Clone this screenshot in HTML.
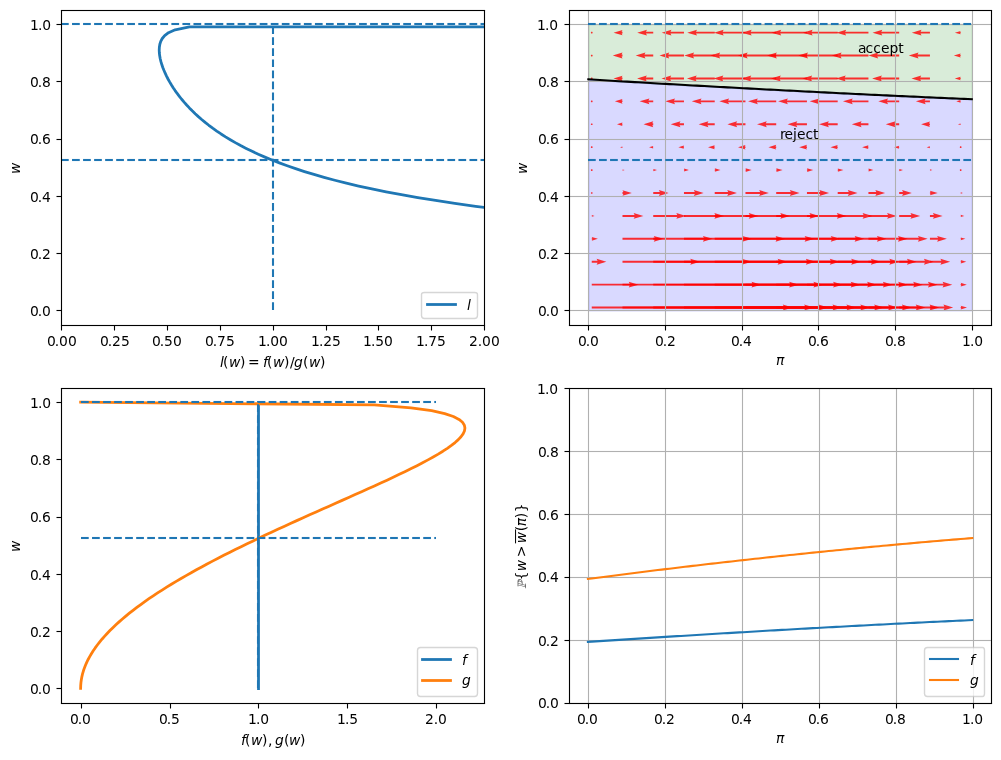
<!DOCTYPE html>
<html lang="en"><head><meta charset="utf-8"><title>Job search with learning</title>
<style>html,body{margin:0;padding:0;background:#fff}svg{display:block}text{white-space:pre}</style>
</head><body>
<svg width="1001" height="760" viewBox="0 0 1001 760" font-family='"DejaVu Sans","Liberation Sans",sans-serif' stroke-linejoin="round" stroke-linecap="butt">
<defs><clipPath id="pc3ad284a32"><rect x="61" y="10" width="423" height="315"/></clipPath><clipPath id="p1f0355fe69"><rect x="569" y="10" width="422" height="315"/></clipPath><clipPath id="p1760d0ab5e"><rect x="61" y="388" width="423" height="315"/></clipPath><clipPath id="p3ed62a09fd"><rect x="569" y="388" width="422" height="315"/></clipPath></defs>
<path d="M0 760L1001 760L1001 0L0 0Z" fill="#ffffff"/>
<!-- axes_1 -->
<path d="M61 325L484 325L484 10L61 10Z" fill="#ffffff"/>
<path d="M61.5 325.5L61.5 330.5" stroke="#000000" stroke-width="1.11"/>
<text x="47 54.75 59.12 67.88" y="346" font-size="13.89">0.00</text>
<path d="M114.5 325.5L114.5 330.5" stroke="#000000" stroke-width="1.11"/>
<text x="100 107.75 112.12 120.88" y="346" font-size="13.89">0.25</text>
<path d="M167.5 325.5L167.5 330.5" stroke="#000000" stroke-width="1.11"/>
<text x="152 159.75 164.12 172.88" y="346" font-size="13.89">0.50</text>
<path d="M220.5 325.5L220.5 330.5" stroke="#000000" stroke-width="1.11"/>
<text x="205 212.75 217.12 225.88" y="346" font-size="13.89">0.75</text>
<path d="M273.5 325.5L273.5 330.5" stroke="#000000" stroke-width="1.11"/>
<text x="258 265.88 270.25 279" y="346" font-size="13.89">1.00</text>
<path d="M326.5 325.5L326.5 330.5" stroke="#000000" stroke-width="1.11"/>
<text x="311 318.88 323.25 332" y="346" font-size="13.89">1.25</text>
<path d="M378.5 325.5L378.5 330.5" stroke="#000000" stroke-width="1.11"/>
<text x="363 370.88 375.25 384" y="346" font-size="13.89">1.50</text>
<path d="M431.5 325.5L431.5 330.5" stroke="#000000" stroke-width="1.11"/>
<text x="416 423.88 428.25 437" y="346" font-size="13.89">1.75</text>
<path d="M484.5 325.5L484.5 330.5" stroke="#000000" stroke-width="1.11"/>
<text x="469 477.75 482.12 490.88" y="346" font-size="13.89">2.00</text>
<g transform="translate(219.91 366.5)">
<text font-size="13.89"><tspan x="0" y="0" font-style="italic">l</tspan><tspan x="3" y="0">(</tspan><tspan x="9" y="0" font-style="italic">w</tspan><tspan x="20" y="0">)</tspan><tspan x="28" y="0">=</tspan><tspan x="43" y="0" font-style="italic">f</tspan><tspan x="47" y="0">(</tspan><tspan x="53" y="0" font-style="italic">w</tspan><tspan x="64" y="0">)</tspan><tspan x="70" y="0">/</tspan><tspan x="74" y="0" font-style="italic">g</tspan><tspan x="83" y="0">(</tspan><tspan x="89" y="0" font-style="italic">w</tspan><tspan x="100" y="0">)</tspan></text>
</g>
<rect x="56.5" y="309.944" width="5" height="1.111" fill="#000000"/>
<text x="30 37.75 42.12" y="316" font-size="13.89">0.0</text>
<rect x="56.5" y="252.944" width="5" height="1.111" fill="#000000"/>
<text x="30 37.75 42.12" y="259" font-size="13.89">0.2</text>
<rect x="56.5" y="195.944" width="5" height="1.111" fill="#000000"/>
<text x="30 37.75 42.12" y="202" font-size="13.89">0.4</text>
<rect x="56.5" y="138.944" width="5" height="1.111" fill="#000000"/>
<text x="30 37.75 42.12" y="144" font-size="13.89">0.6</text>
<rect x="56.5" y="80.944" width="5" height="1.111" fill="#000000"/>
<text x="30 37.75 42.12" y="87" font-size="13.89">0.8</text>
<rect x="56.5" y="23.944" width="5" height="1.111" fill="#000000"/>
<text x="30 37.88 42.25" y="30" font-size="13.89">1.0</text>
<g transform="translate(19.52 173.92) rotate(-90)">
<text font-size="13.89"><tspan x="0" y="0" font-style="italic">w</tspan></text>
</g>
<path d="M1002.67 242.52L961.47 240.98L893.14 238.09L832.49 235.2L778.4 232.3L729.97 229.41L686.43 226.52L647.14 223.63L611.56 220.73L579.25 217.84L549.81 214.95L522.91 212.06L498.27 209.16L475.64 206.27L454.81 203.38L435.59 200.49L417.82 197.59L401.37 194.7L386.09 191.81L371.9 188.92L358.67 186.02L346.34 183.13L334.82 180.24L324.04 177.35L313.94 174.45L304.47 171.56L295.58 168.67L287.22 165.78L279.35 162.88L271.93 159.99L264.93 157.1L258.33 154.21L252.09 151.31L246.19 148.42L240.6 145.53L235.31 142.64L230.3 139.74L225.55 136.85L221.04 133.96L216.76 131.07L212.69 128.17L208.83 125.28L205.16 122.39L201.67 119.49L198.36 116.6L195.2 113.71L192.21 110.82L189.36 107.92L186.66 105.03L184.1 102.14L181.66 99.25L179.36 96.35L177.17 93.46L175.11 90.57L173.17 87.68L171.34 84.78L169.62 81.89L168.02 79L166.54 76.11L165.17 73.21L163.92 70.32L162.79 67.43L161.8 64.54L160.94 61.64L160.23 58.75L159.7 55.86L159.35 52.97L159.22 50.07L159.37 47.18L159.84 44.29L160.75 41.4L162.26 38.5L164.66 35.61L168.5 32.72L175.17 29.83L189.43 26.93L1002.67 26.74" fill="none" stroke="#1f77b4" stroke-width="2.78" stroke-linecap="square" clip-path="url(#pc3ad284a32)"/>
<path d="M273 310L273 24" fill="none" stroke="#1f77b4" stroke-width="2.08" stroke-dasharray="7.71,3.33" clip-path="url(#pc3ad284a32)"/>
<path d="M61 160L484 160" fill="none" stroke="#1f77b4" stroke-width="2.08" stroke-dasharray="7.71,3.33" clip-path="url(#pc3ad284a32)"/>
<path d="M61 160L484 160" fill="none" stroke="#1f77b4" stroke-opacity="0.042" stroke-width="4" stroke-dasharray="7.71,3.33" clip-path="url(#pc3ad284a32)"/>
<path d="M61 24L484 24" fill="none" stroke="#1f77b4" stroke-width="2.08" stroke-dasharray="7.71,3.33" clip-path="url(#pc3ad284a32)"/>
<path d="M61 24L484 24" fill="none" stroke="#1f77b4" stroke-opacity="0.042" stroke-width="4" stroke-dasharray="7.71,3.33" clip-path="url(#pc3ad284a32)"/>
<path d="M61.5 325.5L61.5 10.5" fill="none" stroke="#000000" stroke-width="1.11" stroke-linecap="square" stroke-linejoin="miter"/>
<path d="M484.5 325.5L484.5 10.5" fill="none" stroke="#000000" stroke-width="1.11" stroke-linecap="square" stroke-linejoin="miter"/>
<rect x="60.944" y="324.944" width="424.111" height="1.111" fill="#000000"/>
<rect x="60.944" y="9.944" width="424.111" height="1.111" fill="#000000"/>
<path d="M424.5 318.5L474.5 318.5Q477.5 318.5 477.5 315.5L477.5 294.5Q477.5 292.5 474.5 292.5L424.5 292.5Q421.5 292.5 421.5 294.5L421.5 315.5Q421.5 318.5 424.5 318.5Z" fill="#ffffff" opacity="0.8" stroke="#cccccc" stroke-width="1.39" stroke-linejoin="miter"/>
<rect x="426.111" y="303.111" width="30.778" height="2.778" fill="#1f77b4"/>
<g transform="translate(467.12 309.83)">
<text font-size="13.89"><tspan x="0" y="0" font-style="italic">l</tspan></text>
</g>
<!-- axes_2 -->
<path d="M569 325L991 325L991 10L569 10Z" fill="#ffffff"/>
<path d="M588.79 79.83L588.79 310.9L592.66 310.9L596.54 310.9L600.41 310.9L604.29 310.9L608.16 310.9L612.03 310.9L615.91 310.9L619.78 310.9L623.66 310.9L627.53 310.9L631.4 310.9L635.28 310.9L639.15 310.9L643.03 310.9L646.9 310.9L650.77 310.9L654.65 310.9L658.52 310.9L662.4 310.9L666.27 310.9L670.14 310.9L674.02 310.9L677.89 310.9L681.77 310.9L685.64 310.9L689.51 310.9L693.39 310.9L697.26 310.9L701.14 310.9L705.01 310.9L708.88 310.9L712.76 310.9L716.63 310.9L720.51 310.9L724.38 310.9L728.25 310.9L732.13 310.9L736 310.9L739.88 310.9L743.75 310.9L747.62 310.9L751.5 310.9L755.37 310.9L759.25 310.9L763.12 310.9L767 310.9L770.87 310.9L774.74 310.9L778.62 310.9L782.49 310.9L786.37 310.9L790.24 310.9L794.11 310.9L797.99 310.9L801.86 310.9L805.74 310.9L809.61 310.9L813.48 310.9L817.36 310.9L821.23 310.9L825.11 310.9L828.98 310.9L832.85 310.9L836.73 310.9L840.6 310.9L844.48 310.9L848.35 310.9L852.22 310.9L856.1 310.9L859.97 310.9L863.85 310.9L867.72 310.9L871.59 310.9L875.47 310.9L879.34 310.9L883.22 310.9L887.09 310.9L890.96 310.9L894.84 310.9L898.71 310.9L902.59 310.9L906.46 310.9L910.33 310.9L914.21 310.9L918.08 310.9L921.96 310.9L925.83 310.9L929.7 310.9L933.58 310.9L937.45 310.9L941.33 310.9L945.2 310.9L949.07 310.9L952.95 310.9L956.82 310.9L960.7 310.9L964.57 310.9L968.44 310.9L972.32 310.9L972.32 99.67L972.32 99.67L968.44 99.51L964.57 99.35L960.7 99.19L956.82 99.02L952.95 98.86L949.07 98.69L945.2 98.53L941.33 98.36L937.45 98.19L933.58 98.02L929.7 97.85L925.83 97.68L921.96 97.5L918.08 97.33L914.21 97.16L910.33 96.98L906.46 96.8L902.59 96.63L898.71 96.45L894.84 96.27L890.96 96.09L887.09 95.91L883.22 95.73L879.34 95.54L875.47 95.36L871.59 95.18L867.72 94.99L863.85 94.81L859.97 94.62L856.1 94.43L852.22 94.24L848.35 94.06L844.48 93.87L840.6 93.68L836.73 93.48L832.85 93.29L828.98 93.1L825.11 92.91L821.23 92.71L817.36 92.52L813.48 92.32L809.61 92.13L805.74 91.93L801.86 91.73L797.99 91.53L794.11 91.33L790.24 91.13L786.37 90.93L782.49 90.73L778.62 90.53L774.74 90.33L770.87 90.12L767 89.92L763.12 89.72L759.25 89.51L755.37 89.3L751.5 89.1L747.62 88.89L743.75 88.68L739.88 88.47L736 88.27L732.13 88.06L728.25 87.84L724.38 87.63L720.51 87.42L716.63 87.21L712.76 87L708.88 86.78L705.01 86.57L701.14 86.35L697.26 86.14L693.39 85.92L689.51 85.7L685.64 85.49L681.77 85.27L677.89 85.05L674.02 84.83L670.14 84.61L666.27 84.39L662.4 84.17L658.52 83.95L654.65 83.72L650.77 83.5L646.9 83.28L643.03 83.05L639.15 82.83L635.28 82.6L631.4 82.37L627.53 82.15L623.66 81.92L619.78 81.69L615.91 81.46L612.03 81.23L608.16 81L604.29 80.76L600.41 80.53L596.54 80.3L592.66 80.06L588.79 79.83Z" fill="#0000ff" fill-opacity="0.15" stroke="#0000ff" stroke-opacity="0.15" stroke-width="1.39" clip-path="url(#p1f0355fe69)"/>
<path d="M588.79 24.54L588.79 79.83L592.66 80.06L596.54 80.3L600.41 80.53L604.29 80.76L608.16 81L612.03 81.23L615.91 81.46L619.78 81.69L623.66 81.92L627.53 82.15L631.4 82.37L635.28 82.6L639.15 82.83L643.03 83.05L646.9 83.28L650.77 83.5L654.65 83.72L658.52 83.95L662.4 84.17L666.27 84.39L670.14 84.61L674.02 84.83L677.89 85.05L681.77 85.27L685.64 85.49L689.51 85.7L693.39 85.92L697.26 86.14L701.14 86.35L705.01 86.57L708.88 86.78L712.76 87L716.63 87.21L720.51 87.42L724.38 87.63L728.25 87.84L732.13 88.06L736 88.27L739.88 88.47L743.75 88.68L747.62 88.89L751.5 89.1L755.37 89.3L759.25 89.51L763.12 89.72L767 89.92L770.87 90.12L774.74 90.33L778.62 90.53L782.49 90.73L786.37 90.93L790.24 91.13L794.11 91.33L797.99 91.53L801.86 91.73L805.74 91.93L809.61 92.13L813.48 92.32L817.36 92.52L821.23 92.71L825.11 92.91L828.98 93.1L832.85 93.29L836.73 93.48L840.6 93.68L844.48 93.87L848.35 94.06L852.22 94.24L856.1 94.43L859.97 94.62L863.85 94.81L867.72 94.99L871.59 95.18L875.47 95.36L879.34 95.54L883.22 95.73L887.09 95.91L890.96 96.09L894.84 96.27L898.71 96.45L902.59 96.63L906.46 96.8L910.33 96.98L914.21 97.16L918.08 97.33L921.96 97.5L925.83 97.68L929.7 97.85L933.58 98.02L937.45 98.19L941.33 98.36L945.2 98.53L949.07 98.69L952.95 98.86L956.82 99.02L960.7 99.19L964.57 99.35L968.44 99.51L972.32 99.67L972.32 24.54L972.32 24.54L968.44 24.54L964.57 24.54L960.7 24.54L956.82 24.54L952.95 24.54L949.07 24.54L945.2 24.54L941.33 24.54L937.45 24.54L933.58 24.54L929.7 24.54L925.83 24.54L921.96 24.54L918.08 24.54L914.21 24.54L910.33 24.54L906.46 24.54L902.59 24.54L898.71 24.54L894.84 24.54L890.96 24.54L887.09 24.54L883.22 24.54L879.34 24.54L875.47 24.54L871.59 24.54L867.72 24.54L863.85 24.54L859.97 24.54L856.1 24.54L852.22 24.54L848.35 24.54L844.48 24.54L840.6 24.54L836.73 24.54L832.85 24.54L828.98 24.54L825.11 24.54L821.23 24.54L817.36 24.54L813.48 24.54L809.61 24.54L805.74 24.54L801.86 24.54L797.99 24.54L794.11 24.54L790.24 24.54L786.37 24.54L782.49 24.54L778.62 24.54L774.74 24.54L770.87 24.54L767 24.54L763.12 24.54L759.25 24.54L755.37 24.54L751.5 24.54L747.62 24.54L743.75 24.54L739.88 24.54L736 24.54L732.13 24.54L728.25 24.54L724.38 24.54L720.51 24.54L716.63 24.54L712.76 24.54L708.88 24.54L705.01 24.54L701.14 24.54L697.26 24.54L693.39 24.54L689.51 24.54L685.64 24.54L681.77 24.54L677.89 24.54L674.02 24.54L670.14 24.54L666.27 24.54L662.4 24.54L658.52 24.54L654.65 24.54L650.77 24.54L646.9 24.54L643.03 24.54L639.15 24.54L635.28 24.54L631.4 24.54L627.53 24.54L623.66 24.54L619.78 24.54L615.91 24.54L612.03 24.54L608.16 24.54L604.29 24.54L600.41 24.54L596.54 24.54L592.66 24.54L588.79 24.54Z" fill="#008000" fill-opacity="0.15" stroke="#008000" stroke-opacity="0.15" stroke-width="1.39" clip-path="url(#p1f0355fe69)"/>
<path d="M591.75 306.56L783.75 306.56L782.78 304.61L792.53 307.54L782.78 310.47L783.75 308.52L591.75 308.52L591.75 306.56" fill="#ff0000" fill-opacity="0.8" clip-path="url(#p1f0355fe69)"/>
<path d="M622.49 306.56L805.16 306.56L804.18 304.61L813.94 307.54L804.18 310.47L805.16 308.52L622.49 308.52L622.49 306.56" fill="#ff0000" fill-opacity="0.8" clip-path="url(#p1f0355fe69)"/>
<path d="M653.24 306.56L819.45 306.56L818.48 304.61L828.23 307.54L818.48 310.47L819.45 308.52L653.24 308.52L653.24 306.56" fill="#ff0000" fill-opacity="0.8" clip-path="url(#p1f0355fe69)"/>
<path d="M683.98 306.56L833.46 306.56L832.48 304.61L842.24 307.54L832.48 310.47L833.46 308.52L683.98 308.52L683.98 306.56" fill="#ff0000" fill-opacity="0.8" clip-path="url(#p1f0355fe69)"/>
<path d="M714.72 306.56L847.38 306.56L846.4 304.61L856.16 307.54L846.4 310.47L847.38 308.52L714.72 308.52L714.72 306.56" fill="#ff0000" fill-opacity="0.8" clip-path="url(#p1f0355fe69)"/>
<path d="M745.47 306.56L861.26 306.56L860.29 304.61L870.04 307.54L860.29 310.47L861.26 308.52L745.47 308.52L745.47 306.56" fill="#ff0000" fill-opacity="0.8" clip-path="url(#p1f0355fe69)"/>
<path d="M776.21 306.56L875.13 306.56L874.16 304.61L883.91 307.54L874.16 310.47L875.13 308.52L776.21 308.52L776.21 306.56" fill="#ff0000" fill-opacity="0.8" clip-path="url(#p1f0355fe69)"/>
<path d="M806.95 306.56L888.99 306.56L888.02 304.61L897.77 307.54L888.02 310.47L888.99 308.52L806.95 308.52L806.95 306.56" fill="#ff0000" fill-opacity="0.8" clip-path="url(#p1f0355fe69)"/>
<path d="M837.7 306.56L902.85 306.56L901.87 304.61L911.63 307.54L901.87 310.47L902.85 308.52L837.7 308.52L837.7 306.56" fill="#ff0000" fill-opacity="0.8" clip-path="url(#p1f0355fe69)"/>
<path d="M868.44 306.56L916.7 306.56L915.72 304.61L925.48 307.54L915.72 310.47L916.7 308.52L868.44 308.52L868.44 306.56" fill="#ff0000" fill-opacity="0.8" clip-path="url(#p1f0355fe69)"/>
<path d="M899.19 306.56L930.54 306.56L929.57 304.61L939.32 307.54L929.57 310.47L930.54 308.52L899.19 308.52L899.19 306.56" fill="#ff0000" fill-opacity="0.8" clip-path="url(#p1f0355fe69)"/>
<path d="M929.93 306.56L944.39 306.56L943.41 304.61L953.17 307.54L943.41 310.47L944.39 308.52L929.93 308.52L929.93 306.56" fill="#ff0000" fill-opacity="0.8" clip-path="url(#p1f0355fe69)"/>
<path d="M960.67 306.91L961.31 306.91L960.67 305.64L967.01 307.54L960.67 309.44L961.31 308.17L960.67 308.17L960.67 306.91" fill="#ff0000" fill-opacity="0.8" clip-path="url(#p1f0355fe69)"/>
<path d="M591.75 283.66L629.74 283.66L628.76 281.7L638.52 284.63L628.76 287.56L629.74 285.61L591.75 285.61L591.75 283.66" fill="#ff0000" fill-opacity="0.8" clip-path="url(#p1f0355fe69)"/>
<path d="M622.49 283.66L752.48 283.66L751.51 281.7L761.26 284.63L751.51 287.56L752.48 285.61L622.49 285.61L622.49 283.66" fill="#ff0000" fill-opacity="0.8" clip-path="url(#p1f0355fe69)"/>
<path d="M653.24 283.66L790.12 283.66L789.14 281.7L798.9 284.63L789.14 287.56L790.12 285.61L653.24 285.61L653.24 283.66" fill="#ff0000" fill-opacity="0.8" clip-path="url(#p1f0355fe69)"/>
<path d="M683.98 283.66L814.38 283.66L813.41 281.7L823.16 284.63L813.41 287.56L814.38 285.61L683.98 285.61L683.98 283.66" fill="#ff0000" fill-opacity="0.8" clip-path="url(#p1f0355fe69)"/>
<path d="M714.72 283.66L834.07 283.66L833.09 281.7L842.85 284.63L833.09 287.56L834.07 285.61L714.72 285.61L714.72 283.66" fill="#ff0000" fill-opacity="0.8" clip-path="url(#p1f0355fe69)"/>
<path d="M745.47 283.66L851.65 283.66L850.68 281.7L860.43 284.63L850.68 287.56L851.65 285.61L745.47 285.61L745.47 283.66" fill="#ff0000" fill-opacity="0.8" clip-path="url(#p1f0355fe69)"/>
<path d="M776.21 283.66L868.09 283.66L867.11 281.7L876.87 284.63L867.11 287.56L868.09 285.61L776.21 285.61L776.21 283.66" fill="#ff0000" fill-opacity="0.8" clip-path="url(#p1f0355fe69)"/>
<path d="M806.95 283.66L883.84 283.66L882.86 281.7L892.62 284.63L882.86 287.56L883.84 285.61L806.95 285.61L806.95 283.66" fill="#ff0000" fill-opacity="0.8" clip-path="url(#p1f0355fe69)"/>
<path d="M837.7 283.66L899.14 283.66L898.17 281.7L907.92 284.63L898.17 287.56L899.14 285.61L837.7 285.61L837.7 283.66" fill="#ff0000" fill-opacity="0.8" clip-path="url(#p1f0355fe69)"/>
<path d="M868.44 283.66L914.14 283.66L913.16 281.7L922.92 284.63L913.16 287.56L914.14 285.61L868.44 285.61L868.44 283.66" fill="#ff0000" fill-opacity="0.8" clip-path="url(#p1f0355fe69)"/>
<path d="M899.19 283.66L928.91 283.66L927.94 281.7L937.69 284.63L927.94 287.56L928.91 285.61L899.19 285.61L899.19 283.66" fill="#ff0000" fill-opacity="0.8" clip-path="url(#p1f0355fe69)"/>
<path d="M929.93 283.66L943.53 283.66L942.55 281.7L952.31 284.63L942.55 287.56L943.53 285.61L929.93 285.61L929.93 283.66" fill="#ff0000" fill-opacity="0.8" clip-path="url(#p1f0355fe69)"/>
<path d="M960.67 284.02L961.29 284.02L960.67 282.79L966.8 284.63L960.67 286.47L961.29 285.24L960.67 285.24L960.67 284.02" fill="#ff0000" fill-opacity="0.8" clip-path="url(#p1f0355fe69)"/>
<path d="M591.75 260.75L597.57 260.75L596.6 258.8L606.35 261.72L596.6 264.65L597.57 262.7L591.75 262.7L591.75 260.75" fill="#ff0000" fill-opacity="0.8" clip-path="url(#p1f0355fe69)"/>
<path d="M622.49 260.75L691.24 260.75L690.26 258.8L700.02 261.72L690.26 264.65L691.24 262.7L622.49 262.7L622.49 260.75" fill="#ff0000" fill-opacity="0.8" clip-path="url(#p1f0355fe69)"/>
<path d="M653.24 260.75L742.79 260.75L741.82 258.8L751.57 261.72L741.82 264.65L742.79 262.7L653.24 262.7L653.24 260.75" fill="#ff0000" fill-opacity="0.8" clip-path="url(#p1f0355fe69)"/>
<path d="M683.98 260.75L778.6 260.75L777.62 258.8L787.38 261.72L777.62 264.65L778.6 262.7L683.98 262.7L683.98 260.75" fill="#ff0000" fill-opacity="0.8" clip-path="url(#p1f0355fe69)"/>
<path d="M714.72 260.75L806.82 260.75L805.84 258.8L815.6 261.72L805.84 264.65L806.82 262.7L714.72 262.7L714.72 260.75" fill="#ff0000" fill-opacity="0.8" clip-path="url(#p1f0355fe69)"/>
<path d="M745.47 260.75L830.8 260.75L829.82 258.8L839.58 261.72L829.82 264.65L830.8 262.7L745.47 262.7L745.47 260.75" fill="#ff0000" fill-opacity="0.8" clip-path="url(#p1f0355fe69)"/>
<path d="M776.21 260.75L852.18 260.75L851.2 258.8L860.96 261.72L851.2 264.65L852.18 262.7L776.21 262.7L776.21 260.75" fill="#ff0000" fill-opacity="0.8" clip-path="url(#p1f0355fe69)"/>
<path d="M806.95 260.75L871.84 260.75L870.86 258.8L880.62 261.72L870.86 264.65L871.84 262.7L806.95 262.7L806.95 260.75" fill="#ff0000" fill-opacity="0.8" clip-path="url(#p1f0355fe69)"/>
<path d="M837.7 260.75L890.31 260.75L889.33 258.8L899.09 261.72L889.33 264.65L890.31 262.7L837.7 262.7L837.7 260.75" fill="#ff0000" fill-opacity="0.8" clip-path="url(#p1f0355fe69)"/>
<path d="M868.44 260.75L907.92 260.75L906.94 258.8L916.7 261.72L906.94 264.65L907.92 262.7L868.44 262.7L868.44 260.75" fill="#ff0000" fill-opacity="0.8" clip-path="url(#p1f0355fe69)"/>
<path d="M899.19 260.75L924.89 260.75L923.92 258.8L933.67 261.72L923.92 264.65L924.89 262.7L899.19 262.7L899.19 260.75" fill="#ff0000" fill-opacity="0.8" clip-path="url(#p1f0355fe69)"/>
<path d="M929.93 260.75L941.37 260.75L940.4 258.8L950.15 261.72L940.4 264.65L941.37 262.7L929.93 262.7L929.93 260.75" fill="#ff0000" fill-opacity="0.8" clip-path="url(#p1f0355fe69)"/>
<path d="M960.67 261.16L961.23 261.16L960.67 260.05L966.25 261.72L960.67 263.39L961.23 262.28L960.67 262.28L960.67 261.16" fill="#ff0000" fill-opacity="0.8" clip-path="url(#p1f0355fe69)"/>
<path d="M591.75 238.2L592.36 238.2L591.75 236.98L597.87 238.81L591.75 240.65L592.36 239.43L591.75 239.43L591.75 238.2" fill="#ff0000" fill-opacity="0.8" clip-path="url(#p1f0355fe69)"/>
<path d="M622.49 237.84L654.73 237.84L653.76 235.89L663.51 238.81L653.76 241.74L654.73 239.79L622.49 239.79L622.49 237.84" fill="#ff0000" fill-opacity="0.8" clip-path="url(#p1f0355fe69)"/>
<path d="M653.24 237.84L703.87 237.84L702.89 235.89L712.65 238.81L702.89 241.74L703.87 239.79L653.24 239.79L653.24 237.84" fill="#ff0000" fill-opacity="0.8" clip-path="url(#p1f0355fe69)"/>
<path d="M683.98 237.84L743.3 237.84L742.32 235.89L752.08 238.81L742.32 241.74L743.3 239.79L683.98 239.79L683.98 237.84" fill="#ff0000" fill-opacity="0.8" clip-path="url(#p1f0355fe69)"/>
<path d="M714.72 237.84L776.54 237.84L775.56 235.89L785.32 238.81L775.56 241.74L776.54 239.79L714.72 239.79L714.72 237.84" fill="#ff0000" fill-opacity="0.8" clip-path="url(#p1f0355fe69)"/>
<path d="M745.47 237.84L805.6 237.84L804.62 235.89L814.38 238.81L804.62 241.74L805.6 239.79L745.47 239.79L745.47 237.84" fill="#ff0000" fill-opacity="0.8" clip-path="url(#p1f0355fe69)"/>
<path d="M776.21 237.84L831.69 237.84L830.71 235.89L840.47 238.81L830.71 241.74L831.69 239.79L776.21 239.79L776.21 237.84" fill="#ff0000" fill-opacity="0.8" clip-path="url(#p1f0355fe69)"/>
<path d="M806.95 237.84L855.61 237.84L854.63 235.89L864.39 238.81L854.63 241.74L855.61 239.79L806.95 239.79L806.95 237.84" fill="#ff0000" fill-opacity="0.8" clip-path="url(#p1f0355fe69)"/>
<path d="M837.7 237.84L877.89 237.84L876.91 235.89L886.67 238.81L876.91 241.74L877.89 239.79L837.7 239.79L837.7 237.84" fill="#ff0000" fill-opacity="0.8" clip-path="url(#p1f0355fe69)"/>
<path d="M868.44 237.84L898.89 237.84L897.92 235.89L907.67 238.81L897.92 241.74L898.89 239.79L868.44 239.79L868.44 237.84" fill="#ff0000" fill-opacity="0.8" clip-path="url(#p1f0355fe69)"/>
<path d="M899.19 237.84L918.89 237.84L917.92 235.89L927.67 238.81L917.92 241.74L918.89 239.79L899.19 239.79L899.19 237.84" fill="#ff0000" fill-opacity="0.8" clip-path="url(#p1f0355fe69)"/>
<path d="M929.93 237.84L938.08 237.84L937.11 235.89L946.86 238.81L937.11 241.74L938.08 239.79L929.93 239.79L929.93 237.84" fill="#ff0000" fill-opacity="0.8" clip-path="url(#p1f0355fe69)"/>
<path d="M960.67 238.34L961.15 238.34L960.67 237.4L965.4 238.81L960.67 240.23L961.15 239.29L960.67 239.29L960.67 238.34" fill="#ff0000" fill-opacity="0.8" clip-path="url(#p1f0355fe69)"/>
<path d="M591.75 215.62L592.03 215.62L591.75 215.06L594.55 215.9L591.75 216.74L592.03 216.18L591.75 216.18L591.75 215.62" fill="#ff0000" fill-opacity="0.8" clip-path="url(#p1f0355fe69)"/>
<path d="M622.49 214.93L634.62 214.93L633.65 212.98L643.4 215.9L633.65 218.83L634.62 216.88L622.49 216.88L622.49 214.93" fill="#ff0000" fill-opacity="0.8" clip-path="url(#p1f0355fe69)"/>
<path d="M653.24 214.93L677.31 214.93L676.33 212.98L686.09 215.9L676.33 218.83L677.31 216.88L653.24 216.88L653.24 214.93" fill="#ff0000" fill-opacity="0.8" clip-path="url(#p1f0355fe69)"/>
<path d="M683.98 214.93L715.32 214.93L714.34 212.98L724.1 215.9L714.34 218.83L715.32 216.88L683.98 216.88L683.98 214.93" fill="#ff0000" fill-opacity="0.8" clip-path="url(#p1f0355fe69)"/>
<path d="M714.72 214.93L749.71 214.93L748.73 212.98L758.49 215.9L748.73 218.83L749.71 216.88L714.72 216.88L714.72 214.93" fill="#ff0000" fill-opacity="0.8" clip-path="url(#p1f0355fe69)"/>
<path d="M745.47 214.93L781.23 214.93L780.25 212.98L790.01 215.9L780.25 218.83L781.23 216.88L745.47 216.88L745.47 214.93" fill="#ff0000" fill-opacity="0.8" clip-path="url(#p1f0355fe69)"/>
<path d="M776.21 214.93L810.45 214.93L809.47 212.98L819.23 215.9L809.47 218.83L810.45 216.88L776.21 216.88L776.21 214.93" fill="#ff0000" fill-opacity="0.8" clip-path="url(#p1f0355fe69)"/>
<path d="M806.95 214.93L837.79 214.93L836.81 212.98L846.56 215.9L836.81 218.83L837.79 216.88L806.95 216.88L806.95 214.93" fill="#ff0000" fill-opacity="0.8" clip-path="url(#p1f0355fe69)"/>
<path d="M837.7 214.93L863.57 214.93L862.59 212.98L872.35 215.9L862.59 218.83L863.57 216.88L837.7 216.88L837.7 214.93" fill="#ff0000" fill-opacity="0.8" clip-path="url(#p1f0355fe69)"/>
<path d="M868.44 214.93L888.04 214.93L887.07 212.98L896.82 215.9L887.07 218.83L888.04 216.88L868.44 216.88L868.44 214.93" fill="#ff0000" fill-opacity="0.8" clip-path="url(#p1f0355fe69)"/>
<path d="M899.19 214.93L911.42 214.93L910.45 212.98L920.2 215.9L910.45 218.83L911.42 216.88L899.19 216.88L899.19 214.93" fill="#ff0000" fill-opacity="0.8" clip-path="url(#p1f0355fe69)"/>
<path d="M929.93 214.93L933.86 214.93L932.89 212.98L942.64 215.9L932.89 218.83L933.86 216.88L929.93 216.88L929.93 214.93" fill="#ff0000" fill-opacity="0.8" clip-path="url(#p1f0355fe69)"/>
<path d="M960.67 215.54L961.03 215.54L960.67 214.82L964.28 215.9L960.67 216.98L961.03 216.26L960.67 216.26L960.67 215.54" fill="#ff0000" fill-opacity="0.8" clip-path="url(#p1f0355fe69)"/>
<path d="M592.72 192.99L592.24 192.15L591.26 192.15L590.77 192.99L591.26 193.84L592.24 193.84L592.72 192.99L592.24 192.15" fill="#ff0000" fill-opacity="0.8" clip-path="url(#p1f0355fe69)"/>
<path d="M622.49 192.06L623.42 192.06L622.49 190.2L631.8 192.99L622.49 195.79L623.42 193.93L622.49 193.93L622.49 192.06" fill="#ff0000" fill-opacity="0.8" clip-path="url(#p1f0355fe69)"/>
<path d="M653.24 192.02L659.83 192.02L658.86 190.07L668.61 192.99L658.86 195.92L659.83 193.97L653.24 193.97L653.24 192.02" fill="#ff0000" fill-opacity="0.8" clip-path="url(#p1f0355fe69)"/>
<path d="M683.98 192.02L694.82 192.02L693.85 190.07L703.6 192.99L693.85 195.92L694.82 193.97L683.98 193.97L683.98 192.02" fill="#ff0000" fill-opacity="0.8" clip-path="url(#p1f0355fe69)"/>
<path d="M714.72 192.02L728.2 192.02L727.23 190.07L736.98 192.99L727.23 195.92L728.2 193.97L714.72 193.97L714.72 192.02" fill="#ff0000" fill-opacity="0.8" clip-path="url(#p1f0355fe69)"/>
<path d="M745.47 192.02L760.15 192.02L759.17 190.07L768.92 192.99L759.17 195.92L760.15 193.97L745.47 193.97L745.47 192.02" fill="#ff0000" fill-opacity="0.8" clip-path="url(#p1f0355fe69)"/>
<path d="M776.21 192.02L790.81 192.02L789.83 190.07L799.59 192.99L789.83 195.92L790.81 193.97L776.21 193.97L776.21 192.02" fill="#ff0000" fill-opacity="0.8" clip-path="url(#p1f0355fe69)"/>
<path d="M806.95 192.02L820.32 192.02L819.34 190.07L829.1 192.99L819.34 195.92L820.32 193.97L806.95 193.97L806.95 192.02" fill="#ff0000" fill-opacity="0.8" clip-path="url(#p1f0355fe69)"/>
<path d="M837.7 192.02L848.79 192.02L847.82 190.07L857.57 192.99L847.82 195.92L848.79 193.97L837.7 193.97L837.7 192.02" fill="#ff0000" fill-opacity="0.8" clip-path="url(#p1f0355fe69)"/>
<path d="M868.44 192.02L876.33 192.02L875.35 190.07L885.11 192.99L875.35 195.92L876.33 193.97L868.44 193.97L868.44 192.02" fill="#ff0000" fill-opacity="0.8" clip-path="url(#p1f0355fe69)"/>
<path d="M899.19 192.02L903.02 192.02L902.04 190.07L911.8 192.99L902.04 195.92L903.02 193.97L899.19 193.97L899.19 192.02" fill="#ff0000" fill-opacity="0.8" clip-path="url(#p1f0355fe69)"/>
<path d="M929.93 192.22L930.71 192.22L929.93 190.66L937.71 192.99L929.93 195.33L930.71 193.77L929.93 193.77L929.93 192.22" fill="#ff0000" fill-opacity="0.8" clip-path="url(#p1f0355fe69)"/>
<path d="M960.67 192.77L960.9 192.77L960.67 192.32L962.92 192.99L960.67 193.67L960.9 193.22L960.67 193.22L960.67 192.77" fill="#ff0000" fill-opacity="0.8" clip-path="url(#p1f0355fe69)"/>
<path d="M592.72 170.09L592.24 169.24L591.26 169.24L590.77 170.09L591.26 170.93L592.24 170.93L592.72 170.09L592.24 169.24" fill="#ff0000" fill-opacity="0.8" clip-path="url(#p1f0355fe69)"/>
<path d="M622.49 169.87L622.71 169.87L622.49 169.43L624.69 170.09L622.49 170.74L622.71 170.31L622.49 170.31L622.49 169.87" fill="#ff0000" fill-opacity="0.8" clip-path="url(#p1f0355fe69)"/>
<path d="M653.24 169.71L653.61 169.71L653.24 168.96L656.98 170.09L653.24 171.21L653.61 170.46L653.24 170.46L653.24 169.71" fill="#ff0000" fill-opacity="0.8" clip-path="url(#p1f0355fe69)"/>
<path d="M683.98 169.59L684.47 169.59L683.98 168.61L688.9 170.09L683.98 171.56L684.47 170.58L683.98 170.58L683.98 169.59" fill="#ff0000" fill-opacity="0.8" clip-path="url(#p1f0355fe69)"/>
<path d="M714.72 169.51L715.3 169.51L714.72 168.36L720.47 170.09L714.72 171.81L715.3 170.66L714.72 170.66L714.72 169.51" fill="#ff0000" fill-opacity="0.8" clip-path="url(#p1f0355fe69)"/>
<path d="M745.47 169.46L746.09 169.46L745.47 168.22L751.69 170.09L745.47 171.95L746.09 170.71L745.47 170.71L745.47 169.46" fill="#ff0000" fill-opacity="0.8" clip-path="url(#p1f0355fe69)"/>
<path d="M776.21 169.45L776.85 169.45L776.21 168.18L782.58 170.09L776.21 172L776.85 170.72L776.21 170.72L776.21 169.45" fill="#ff0000" fill-opacity="0.8" clip-path="url(#p1f0355fe69)"/>
<path d="M806.95 169.47L807.57 169.47L806.95 168.23L813.14 170.09L806.95 171.94L807.57 170.7L806.95 170.7L806.95 169.47" fill="#ff0000" fill-opacity="0.8" clip-path="url(#p1f0355fe69)"/>
<path d="M837.7 169.52L838.27 169.52L837.7 168.38L843.39 170.09L837.7 171.79L838.27 170.65L837.7 170.65L837.7 169.52" fill="#ff0000" fill-opacity="0.8" clip-path="url(#p1f0355fe69)"/>
<path d="M868.44 169.6L868.93 169.6L868.44 168.62L873.32 170.09L868.44 171.55L868.93 170.57L868.44 170.57L868.44 169.6" fill="#ff0000" fill-opacity="0.8" clip-path="url(#p1f0355fe69)"/>
<path d="M899.19 169.71L899.56 169.71L899.19 168.95L902.96 170.09L899.19 171.22L899.56 170.46L899.19 170.46L899.19 169.71" fill="#ff0000" fill-opacity="0.8" clip-path="url(#p1f0355fe69)"/>
<path d="M929.93 169.85L930.17 169.85L929.93 169.37L932.31 170.09L929.93 170.8L930.17 170.32L929.93 170.32L929.93 169.85" fill="#ff0000" fill-opacity="0.8" clip-path="url(#p1f0355fe69)"/>
<path d="M961.65 170.09L961.16 169.24L960.19 169.24L959.7 170.09L960.19 170.93L961.16 170.93L961.65 170.09L961.16 169.24" fill="#ff0000" fill-opacity="0.8" clip-path="url(#p1f0355fe69)"/>
<path d="M590.77 147.18L591.26 148.02L592.24 148.02L592.72 147.18L592.24 146.33L591.26 146.33L590.77 147.18L591.26 148.02" fill="#ff0000" fill-opacity="0.8" clip-path="url(#p1f0355fe69)"/>
<path d="M622.49 147.42L622.25 147.42L622.49 147.9L620.08 147.18L622.49 146.45L622.25 146.94L622.49 146.94L622.49 147.42" fill="#ff0000" fill-opacity="0.8" clip-path="url(#p1f0355fe69)"/>
<path d="M653.24 147.6L652.82 147.6L653.24 148.44L649.04 147.18L653.24 145.92L652.82 146.76L653.24 146.76L653.24 147.6" fill="#ff0000" fill-opacity="0.8" clip-path="url(#p1f0355fe69)"/>
<path d="M683.98 147.74L683.42 147.74L683.98 148.87L678.34 147.18L683.98 145.49L683.42 146.61L683.98 146.61L683.98 147.74" fill="#ff0000" fill-opacity="0.8" clip-path="url(#p1f0355fe69)"/>
<path d="M714.72 147.85L714.05 147.85L714.72 149.19L708 147.18L714.72 145.16L714.05 146.5L714.72 146.5L714.72 147.85" fill="#ff0000" fill-opacity="0.8" clip-path="url(#p1f0355fe69)"/>
<path d="M745.47 147.92L744.72 147.92L745.47 149.41L738.03 147.18L745.47 144.94L744.72 146.43L745.47 146.43L745.47 147.92" fill="#ff0000" fill-opacity="0.8" clip-path="url(#p1f0355fe69)"/>
<path d="M776.21 147.95L775.43 147.95L776.21 149.51L768.43 147.18L776.21 144.84L775.43 146.4L776.21 146.4L776.21 147.95" fill="#ff0000" fill-opacity="0.8" clip-path="url(#p1f0355fe69)"/>
<path d="M806.95 147.95L806.18 147.95L806.95 149.49L799.23 147.18L806.95 144.86L806.18 146.4L806.95 146.4L806.95 147.95" fill="#ff0000" fill-opacity="0.8" clip-path="url(#p1f0355fe69)"/>
<path d="M837.7 147.9L836.97 147.9L837.7 149.35L830.45 147.18L837.7 145L836.97 146.45L837.7 146.45L837.7 147.9" fill="#ff0000" fill-opacity="0.8" clip-path="url(#p1f0355fe69)"/>
<path d="M868.44 147.81L867.81 147.81L868.44 149.08L862.08 147.18L868.44 145.27L867.81 146.54L868.44 146.54L868.44 147.81" fill="#ff0000" fill-opacity="0.8" clip-path="url(#p1f0355fe69)"/>
<path d="M899.19 147.68L898.68 147.68L899.19 148.68L894.16 147.18L899.19 145.67L898.68 146.67L899.19 146.67L899.19 147.68" fill="#ff0000" fill-opacity="0.8" clip-path="url(#p1f0355fe69)"/>
<path d="M929.93 147.5L929.61 147.5L929.93 148.15L926.69 147.18L929.93 146.21L929.61 146.85L929.93 146.85L929.93 147.5" fill="#ff0000" fill-opacity="0.8" clip-path="url(#p1f0355fe69)"/>
<path d="M959.7 147.18L960.19 148.02L961.16 148.02L961.65 147.18L961.16 146.33L960.19 146.33L959.7 147.18L960.19 148.02" fill="#ff0000" fill-opacity="0.8" clip-path="url(#p1f0355fe69)"/>
<path d="M590.77 124.27L591.26 125.11L592.24 125.11L592.72 124.27L592.24 123.42L591.26 123.42L590.77 124.27L591.26 125.11" fill="#ff0000" fill-opacity="0.8" clip-path="url(#p1f0355fe69)"/>
<path d="M622.49 124.82L621.94 124.82L622.49 125.92L616.99 124.27L622.49 122.62L621.94 123.72L622.49 123.72L622.49 124.82" fill="#ff0000" fill-opacity="0.8" clip-path="url(#p1f0355fe69)"/>
<path d="M653.24 125.24L652.26 125.24L653.24 127.18L643.52 124.27L653.24 121.35L652.26 123.3L653.24 123.3L653.24 125.24" fill="#ff0000" fill-opacity="0.8" clip-path="url(#p1f0355fe69)"/>
<path d="M683.98 125.24L679.5 125.24L680.48 127.19L670.72 124.27L680.48 121.34L679.5 123.29L683.98 123.29L683.98 125.24" fill="#ff0000" fill-opacity="0.8" clip-path="url(#p1f0355fe69)"/>
<path d="M714.72 125.24L707.44 125.24L708.41 127.19L698.66 124.27L708.41 121.34L707.44 123.29L714.72 123.29L714.72 125.24" fill="#ff0000" fill-opacity="0.8" clip-path="url(#p1f0355fe69)"/>
<path d="M745.47 125.24L736.17 125.24L737.15 127.19L727.39 124.27L737.15 121.34L736.17 123.29L745.47 123.29L745.47 125.24" fill="#ff0000" fill-opacity="0.8" clip-path="url(#p1f0355fe69)"/>
<path d="M776.21 125.24L765.78 125.24L766.75 127.19L757 124.27L766.75 121.34L765.78 123.29L776.21 123.29L776.21 125.24" fill="#ff0000" fill-opacity="0.8" clip-path="url(#p1f0355fe69)"/>
<path d="M806.95 125.24L796.32 125.24L797.3 127.19L787.54 124.27L797.3 121.34L796.32 123.29L806.95 123.29L806.95 125.24" fill="#ff0000" fill-opacity="0.8" clip-path="url(#p1f0355fe69)"/>
<path d="M837.7 125.24L827.9 125.24L828.88 127.19L819.12 124.27L828.88 121.34L827.9 123.29L837.7 123.29L837.7 125.24" fill="#ff0000" fill-opacity="0.8" clip-path="url(#p1f0355fe69)"/>
<path d="M868.44 125.24L860.62 125.24L861.59 127.19L851.84 124.27L861.59 121.34L860.62 123.29L868.44 123.29L868.44 125.24" fill="#ff0000" fill-opacity="0.8" clip-path="url(#p1f0355fe69)"/>
<path d="M899.19 125.24L894.57 125.24L895.55 127.19L885.79 124.27L895.55 121.34L894.57 123.29L899.19 123.29L899.19 125.24" fill="#ff0000" fill-opacity="0.8" clip-path="url(#p1f0355fe69)"/>
<path d="M929.93 125.15L929.05 125.15L929.93 126.91L921.12 124.27L929.93 121.62L929.05 123.39L929.93 123.39L929.93 125.15" fill="#ff0000" fill-opacity="0.8" clip-path="url(#p1f0355fe69)"/>
<path d="M960.67 124.54L960.4 124.54L960.67 125.08L957.96 124.27L960.67 123.45L960.4 124L960.67 124L960.67 124.54" fill="#ff0000" fill-opacity="0.8" clip-path="url(#p1f0355fe69)"/>
<path d="M590.77 101.36L591.26 102.2L592.24 102.2L592.72 101.36L592.24 100.51L591.26 100.51L590.77 101.36L591.26 102.2" fill="#ff0000" fill-opacity="0.8" clip-path="url(#p1f0355fe69)"/>
<path d="M622.49 102.12L621.73 102.12L622.49 103.64L614.88 101.36L622.49 99.08L621.73 100.6L622.49 100.6L622.49 102.12" fill="#ff0000" fill-opacity="0.8" clip-path="url(#p1f0355fe69)"/>
<path d="M653.24 102.33L648.43 102.33L649.41 104.29L639.65 101.36L649.41 98.43L648.43 100.38L653.24 100.38L653.24 102.33" fill="#ff0000" fill-opacity="0.8" clip-path="url(#p1f0355fe69)"/>
<path d="M683.98 102.33L674.03 102.33L675 104.29L665.25 101.36L675 98.43L674.03 100.38L683.98 100.38L683.98 102.33" fill="#ff0000" fill-opacity="0.8" clip-path="url(#p1f0355fe69)"/>
<path d="M714.72 102.33L700.54 102.33L701.52 104.29L691.76 101.36L701.52 98.43L700.54 100.38L714.72 100.38L714.72 102.33" fill="#ff0000" fill-opacity="0.8" clip-path="url(#p1f0355fe69)"/>
<path d="M745.47 102.33L728.1 102.33L729.08 104.29L719.32 101.36L729.08 98.43L728.1 100.38L745.47 100.38L745.47 102.33" fill="#ff0000" fill-opacity="0.8" clip-path="url(#p1f0355fe69)"/>
<path d="M776.21 102.33L756.83 102.33L757.8 104.29L748.05 101.36L757.8 98.43L756.83 100.38L776.21 100.38L776.21 102.33" fill="#ff0000" fill-opacity="0.8" clip-path="url(#p1f0355fe69)"/>
<path d="M806.95 102.33L786.88 102.33L787.86 104.29L778.1 101.36L787.86 98.43L786.88 100.38L806.95 100.38L806.95 102.33" fill="#ff0000" fill-opacity="0.8" clip-path="url(#p1f0355fe69)"/>
<path d="M837.7 102.33L818.45 102.33L819.42 104.29L809.67 101.36L819.42 98.43L818.45 100.38L837.7 100.38L837.7 102.33" fill="#ff0000" fill-opacity="0.8" clip-path="url(#p1f0355fe69)"/>
<path d="M868.44 102.33L851.75 102.33L852.72 104.29L842.97 101.36L852.72 98.43L851.75 100.38L868.44 100.38L868.44 102.33" fill="#ff0000" fill-opacity="0.8" clip-path="url(#p1f0355fe69)"/>
<path d="M899.19 102.33L887.05 102.33L888.03 104.29L878.27 101.36L888.03 98.43L887.05 100.38L899.19 100.38L899.19 102.33" fill="#ff0000" fill-opacity="0.8" clip-path="url(#p1f0355fe69)"/>
<path d="M929.93 102.33L924.69 102.33L925.66 104.29L915.91 101.36L925.66 98.43L924.69 100.38L929.93 100.38L929.93 102.33" fill="#ff0000" fill-opacity="0.8" clip-path="url(#p1f0355fe69)"/>
<path d="M960.67 101.8L960.23 101.8L960.67 102.68L956.27 101.36L960.67 100.04L960.23 100.92L960.67 100.92L960.67 101.8" fill="#ff0000" fill-opacity="0.8" clip-path="url(#p1f0355fe69)"/>
<path d="M590.77 78.45L591.26 79.29L592.24 79.29L592.72 78.45L592.24 77.6L591.26 77.6L590.77 78.45L591.26 79.29" fill="#ff0000" fill-opacity="0.8" clip-path="url(#p1f0355fe69)"/>
<path d="M622.49 79.35L621.59 79.35L622.49 81.15L613.49 78.45L622.49 75.75L621.59 77.55L622.49 77.55L622.49 79.35" fill="#ff0000" fill-opacity="0.8" clip-path="url(#p1f0355fe69)"/>
<path d="M653.24 79.43L645.83 79.43L646.8 81.38L637.05 78.45L646.8 75.52L645.83 77.47L653.24 77.47L653.24 79.43" fill="#ff0000" fill-opacity="0.8" clip-path="url(#p1f0355fe69)"/>
<path d="M683.98 79.43L670.27 79.43L671.24 81.38L661.49 78.45L671.24 75.52L670.27 77.47L683.98 77.47L683.98 79.43" fill="#ff0000" fill-opacity="0.8" clip-path="url(#p1f0355fe69)"/>
<path d="M714.72 79.43L695.72 79.43L696.7 81.38L686.94 78.45L696.7 75.52L695.72 77.47L714.72 77.47L714.72 79.43" fill="#ff0000" fill-opacity="0.8" clip-path="url(#p1f0355fe69)"/>
<path d="M745.47 79.43L722.33 79.43L723.31 81.38L713.55 78.45L723.31 75.52L722.33 77.47L745.47 77.47L745.47 79.43" fill="#ff0000" fill-opacity="0.8" clip-path="url(#p1f0355fe69)"/>
<path d="M776.21 79.43L750.29 79.43L751.26 81.38L741.51 78.45L751.26 75.52L750.29 77.47L776.21 77.47L776.21 79.43" fill="#ff0000" fill-opacity="0.8" clip-path="url(#p1f0355fe69)"/>
<path d="M806.95 79.43L779.81 79.43L780.78 81.38L771.03 78.45L780.78 75.52L779.81 77.47L806.95 77.47L806.95 79.43" fill="#ff0000" fill-opacity="0.8" clip-path="url(#p1f0355fe69)"/>
<path d="M837.7 79.43L811.17 79.43L812.15 81.38L802.39 78.45L812.15 75.52L811.17 77.47L837.7 77.47L837.7 79.43" fill="#ff0000" fill-opacity="0.8" clip-path="url(#p1f0355fe69)"/>
<path d="M868.44 79.43L844.73 79.43L845.7 81.38L835.95 78.45L845.7 75.52L844.73 77.47L868.44 77.47L868.44 79.43" fill="#ff0000" fill-opacity="0.8" clip-path="url(#p1f0355fe69)"/>
<path d="M899.19 79.43L880.9 79.43L881.88 81.38L872.12 78.45L881.88 75.52L880.9 77.47L899.19 77.47L899.19 79.43" fill="#ff0000" fill-opacity="0.8" clip-path="url(#p1f0355fe69)"/>
<path d="M929.93 79.43L920.27 79.43L921.24 81.38L911.49 78.45L921.24 75.52L920.27 77.47L929.93 77.47L929.93 79.43" fill="#ff0000" fill-opacity="0.8" clip-path="url(#p1f0355fe69)"/>
<path d="M960.67 79.04L960.08 79.04L960.67 80.22L954.77 78.45L960.67 76.68L960.08 77.86L960.67 77.86L960.67 79.04" fill="#ff0000" fill-opacity="0.8" clip-path="url(#p1f0355fe69)"/>
<path d="M590.77 55.54L591.26 56.39L592.24 56.39L592.72 55.54L592.24 54.7L591.26 54.7L590.77 55.54L591.26 56.39" fill="#ff0000" fill-opacity="0.8" clip-path="url(#p1f0355fe69)"/>
<path d="M622.49 56.51L621.52 56.51L622.49 58.46L612.76 55.54L622.49 52.62L621.52 54.57L622.49 54.57L622.49 56.51" fill="#ff0000" fill-opacity="0.8" clip-path="url(#p1f0355fe69)"/>
<path d="M653.24 56.52L644.45 56.52L645.43 58.47L635.67 55.54L645.43 52.61L644.45 54.56L653.24 54.56L653.24 56.52" fill="#ff0000" fill-opacity="0.8" clip-path="url(#p1f0355fe69)"/>
<path d="M683.98 56.52L668.27 56.52L669.25 58.47L659.49 55.54L669.25 52.61L668.27 54.56L683.98 54.56L683.98 56.52" fill="#ff0000" fill-opacity="0.8" clip-path="url(#p1f0355fe69)"/>
<path d="M714.72 56.52L693.12 56.52L694.1 58.47L684.34 55.54L694.1 52.61L693.12 54.56L714.72 54.56L714.72 56.52" fill="#ff0000" fill-opacity="0.8" clip-path="url(#p1f0355fe69)"/>
<path d="M745.47 56.52L719.19 56.52L720.16 58.47L710.41 55.54L720.16 52.61L719.19 54.56L745.47 54.56L745.47 56.52" fill="#ff0000" fill-opacity="0.8" clip-path="url(#p1f0355fe69)"/>
<path d="M776.21 56.52L746.67 56.52L747.64 58.47L737.89 55.54L747.64 52.61L746.67 54.56L776.21 54.56L776.21 56.52" fill="#ff0000" fill-opacity="0.8" clip-path="url(#p1f0355fe69)"/>
<path d="M806.95 56.52L775.83 56.52L776.81 58.47L767.05 55.54L776.81 52.61L775.83 54.56L806.95 54.56L806.95 56.52" fill="#ff0000" fill-opacity="0.8" clip-path="url(#p1f0355fe69)"/>
<path d="M837.7 56.52L807.01 56.52L807.98 58.47L798.23 55.54L807.98 52.61L807.01 54.56L837.7 54.56L837.7 56.52" fill="#ff0000" fill-opacity="0.8" clip-path="url(#p1f0355fe69)"/>
<path d="M868.44 56.52L840.62 56.52L841.6 58.47L831.84 55.54L841.6 52.61L840.62 54.56L868.44 54.56L868.44 56.52" fill="#ff0000" fill-opacity="0.8" clip-path="url(#p1f0355fe69)"/>
<path d="M899.19 56.52L877.23 56.52L878.2 58.47L868.45 55.54L878.2 52.61L877.23 54.56L899.19 54.56L899.19 56.52" fill="#ff0000" fill-opacity="0.8" clip-path="url(#p1f0355fe69)"/>
<path d="M929.93 56.52L917.56 56.52L918.53 58.47L908.78 55.54L918.53 52.61L917.56 54.56L929.93 54.56L929.93 56.52" fill="#ff0000" fill-opacity="0.8" clip-path="url(#p1f0355fe69)"/>
<path d="M960.67 56.23L959.99 56.23L960.67 57.59L953.83 55.54L960.67 53.49L959.99 54.86L960.67 54.86L960.67 56.23" fill="#ff0000" fill-opacity="0.8" clip-path="url(#p1f0355fe69)"/>
<path d="M590.77 32.63L591.26 33.48L592.24 33.48L592.72 32.63L592.24 31.79L591.26 31.79L590.77 32.63L591.26 33.48" fill="#ff0000" fill-opacity="0.8" clip-path="url(#p1f0355fe69)"/>
<path d="M622.49 33.52L621.6 33.52L622.49 35.31L613.57 32.63L622.49 29.95L621.6 31.74L622.49 31.74L622.49 33.52" fill="#ff0000" fill-opacity="0.8" clip-path="url(#p1f0355fe69)"/>
<path d="M653.24 33.61L645.98 33.61L646.96 35.56L637.2 32.63L646.96 29.7L645.98 31.66L653.24 31.66L653.24 33.61" fill="#ff0000" fill-opacity="0.8" clip-path="url(#p1f0355fe69)"/>
<path d="M683.98 33.61L670.49 33.61L671.47 35.56L661.71 32.63L671.47 29.7L670.49 31.66L683.98 31.66L683.98 33.61" fill="#ff0000" fill-opacity="0.8" clip-path="url(#p1f0355fe69)"/>
<path d="M714.72 33.61L696.01 33.61L696.99 35.56L687.23 32.63L696.99 29.7L696.01 31.66L714.72 31.66L714.72 33.61" fill="#ff0000" fill-opacity="0.8" clip-path="url(#p1f0355fe69)"/>
<path d="M745.47 33.61L722.68 33.61L723.66 35.56L713.9 32.63L723.66 29.7L722.68 31.66L745.47 31.66L745.47 33.61" fill="#ff0000" fill-opacity="0.8" clip-path="url(#p1f0355fe69)"/>
<path d="M776.21 33.61L750.69 33.61L751.66 35.56L741.91 32.63L751.66 29.7L750.69 31.66L776.21 31.66L776.21 33.61" fill="#ff0000" fill-opacity="0.8" clip-path="url(#p1f0355fe69)"/>
<path d="M806.95 33.61L780.25 33.61L781.22 35.56L771.47 32.63L781.22 29.7L780.25 31.66L806.95 31.66L806.95 33.61" fill="#ff0000" fill-opacity="0.8" clip-path="url(#p1f0355fe69)"/>
<path d="M837.7 33.61L811.63 33.61L812.61 35.56L802.85 32.63L812.61 29.7L811.63 31.66L837.7 31.66L837.7 33.61" fill="#ff0000" fill-opacity="0.8" clip-path="url(#p1f0355fe69)"/>
<path d="M868.44 33.61L845.17 33.61L846.15 35.56L836.39 32.63L846.15 29.7L845.17 31.66L868.44 31.66L868.44 33.61" fill="#ff0000" fill-opacity="0.8" clip-path="url(#p1f0355fe69)"/>
<path d="M899.19 33.61L881.3 33.61L882.28 35.56L872.52 32.63L882.28 29.7L881.3 31.66L899.19 31.66L899.19 33.61" fill="#ff0000" fill-opacity="0.8" clip-path="url(#p1f0355fe69)"/>
<path d="M929.93 33.61L920.56 33.61L921.53 35.56L911.78 32.63L921.53 29.7L920.56 31.66L929.93 31.66L929.93 33.61" fill="#ff0000" fill-opacity="0.8" clip-path="url(#p1f0355fe69)"/>
<path d="M960.67 33.21L960.09 33.21L960.67 34.37L954.87 32.63L960.67 30.89L960.09 32.05L960.67 32.05L960.67 33.21" fill="#ff0000" fill-opacity="0.8" clip-path="url(#p1f0355fe69)"/>
<path d="M588.5 325.5L588.5 10.5" fill="none" stroke="#b0b0b0" stroke-width="1.11" stroke-linecap="square" clip-path="url(#p1f0355fe69)"/>
<path d="M588.5 325.5L588.5 330.5" stroke="#000000" stroke-width="1.11"/>
<text x="578 585.75 590.12" y="346" font-size="13.89">0.0</text>
<path d="M665.5 325.5L665.5 10.5" fill="none" stroke="#b0b0b0" stroke-width="1.11" stroke-linecap="square" clip-path="url(#p1f0355fe69)"/>
<path d="M665.5 325.5L665.5 330.5" stroke="#000000" stroke-width="1.11"/>
<text x="655 662.75 667.12" y="346" font-size="13.89">0.2</text>
<path d="M742.5 325.5L742.5 10.5" fill="none" stroke="#b0b0b0" stroke-width="1.11" stroke-linecap="square" clip-path="url(#p1f0355fe69)"/>
<path d="M742.5 325.5L742.5 330.5" stroke="#000000" stroke-width="1.11"/>
<text x="731 738.75 743.12" y="346" font-size="13.89">0.4</text>
<path d="M818.5 325.5L818.5 10.5" fill="none" stroke="#b0b0b0" stroke-width="1.11" stroke-linecap="square" clip-path="url(#p1f0355fe69)"/>
<path d="M818.5 325.5L818.5 330.5" stroke="#000000" stroke-width="1.11"/>
<text x="808 815.75 820.12" y="346" font-size="13.89">0.6</text>
<path d="M895.5 325.5L895.5 10.5" fill="none" stroke="#b0b0b0" stroke-width="1.11" stroke-linecap="square" clip-path="url(#p1f0355fe69)"/>
<path d="M895.5 325.5L895.5 330.5" stroke="#000000" stroke-width="1.11"/>
<text x="885 892.75 897.12" y="346" font-size="13.89">0.8</text>
<path d="M972.5 325.5L972.5 10.5" fill="none" stroke="#b0b0b0" stroke-width="1.11" stroke-linecap="square" clip-path="url(#p1f0355fe69)"/>
<path d="M972.5 325.5L972.5 330.5" stroke="#000000" stroke-width="1.11"/>
<text x="962 969.88 974.25" y="346" font-size="13.89">1.0</text>
<g transform="translate(775.93 364.5)">
<text font-size="13.89"><tspan x="0" y="0" font-style="italic">π</tspan></text>
</g>
<rect x="568.944" y="309.944" width="423.111" height="1.111" fill="#b0b0b0" clip-path="url(#p1f0355fe69)"/>
<rect x="564.5" y="309.944" width="5" height="1.111" fill="#000000"/>
<text x="538 545.75 550.12" y="316" font-size="13.89">0.0</text>
<rect x="568.944" y="252.944" width="423.111" height="1.111" fill="#b0b0b0" clip-path="url(#p1f0355fe69)"/>
<rect x="564.5" y="252.944" width="5" height="1.111" fill="#000000"/>
<text x="538 545.75 550.12" y="259" font-size="13.89">0.2</text>
<rect x="568.944" y="195.944" width="423.111" height="1.111" fill="#b0b0b0" clip-path="url(#p1f0355fe69)"/>
<rect x="564.5" y="195.944" width="5" height="1.111" fill="#000000"/>
<text x="538 545.75 550.12" y="202" font-size="13.89">0.4</text>
<rect x="568.944" y="138.944" width="423.111" height="1.111" fill="#b0b0b0" clip-path="url(#p1f0355fe69)"/>
<rect x="564.5" y="138.944" width="5" height="1.111" fill="#000000"/>
<text x="538 545.75 550.12" y="144" font-size="13.89">0.6</text>
<rect x="568.944" y="80.944" width="423.111" height="1.111" fill="#b0b0b0" clip-path="url(#p1f0355fe69)"/>
<rect x="564.5" y="80.944" width="5" height="1.111" fill="#000000"/>
<text x="538 545.75 550.12" y="87" font-size="13.89">0.8</text>
<rect x="568.944" y="23.944" width="423.111" height="1.111" fill="#b0b0b0" clip-path="url(#p1f0355fe69)"/>
<rect x="564.5" y="23.944" width="5" height="1.111" fill="#000000"/>
<text x="537 544.88 549.25" y="30" font-size="13.89">1.0</text>
<g transform="translate(526.55 173.92) rotate(-90)">
<text font-size="13.89"><tspan x="0" y="0" font-style="italic">w</tspan></text>
</g>
<path d="M588.29 79.33L592.16 79.56L596.04 79.8L599.91 80.03L603.79 80.26L607.66 80.5L611.53 80.73L615.41 80.96L619.28 81.19L623.16 81.42L627.03 81.65L630.9 81.87L634.78 82.1L638.65 82.33L642.53 82.55L646.4 82.78L650.27 83L654.15 83.22L658.02 83.45L661.9 83.67L665.77 83.89L669.64 84.11L673.52 84.33L677.39 84.55L681.27 84.77L685.14 84.99L689.01 85.2L692.89 85.42L696.76 85.64L700.64 85.85L704.51 86.07L708.38 86.28L712.26 86.5L716.13 86.71L720.01 86.92L723.88 87.13L727.75 87.34L731.63 87.56L735.5 87.77L739.38 87.97L743.25 88.18L747.12 88.39L751 88.6L754.87 88.8L758.75 89.01L762.62 89.22L766.5 89.42L770.37 89.62L774.24 89.83L778.12 90.03L781.99 90.23L785.87 90.43L789.74 90.63L793.61 90.83L797.49 91.03L801.36 91.23L805.24 91.43L809.11 91.63L812.98 91.82L816.86 92.02L820.73 92.21L824.61 92.41L828.48 92.6L832.35 92.79L836.23 92.98L840.1 93.18L843.98 93.37L847.85 93.56L851.72 93.74L855.6 93.93L859.47 94.12L863.35 94.31L867.22 94.49L871.09 94.68L874.97 94.86L878.84 95.04L882.72 95.23L886.59 95.41L890.46 95.59L894.34 95.77L898.21 95.95L902.09 96.13L905.96 96.3L909.83 96.48L913.71 96.66L917.58 96.83L921.46 97L925.33 97.18L929.2 97.35L933.08 97.52L936.95 97.69L940.83 97.86L944.7 98.03L948.57 98.19L952.45 98.36L956.32 98.52L960.2 98.69L964.07 98.85L967.94 99.01L971.82 99.17" fill="none" stroke="#000000" stroke-width="2.08" stroke-linecap="square" clip-path="url(#p1f0355fe69)"/>
<path d="M588 160L972 160" fill="none" stroke="#1f77b4" stroke-width="2.08" stroke-dasharray="7.71,3.33" clip-path="url(#p1f0355fe69)"/>
<path d="M588 160L972 160" fill="none" stroke="#1f77b4" stroke-opacity="0.042" stroke-width="4" stroke-dasharray="7.71,3.33" clip-path="url(#p1f0355fe69)"/>
<path d="M588 24L972 24" fill="none" stroke="#1f77b4" stroke-width="2.08" stroke-dasharray="7.71,3.33" clip-path="url(#p1f0355fe69)"/>
<path d="M588 24L972 24" fill="none" stroke="#1f77b4" stroke-opacity="0.042" stroke-width="4" stroke-dasharray="7.71,3.33" clip-path="url(#p1f0355fe69)"/>
<path d="M569.5 325.5L569.5 10.5" fill="none" stroke="#000000" stroke-width="1.11" stroke-linecap="square" stroke-linejoin="miter"/>
<path d="M991.5 325.5L991.5 10.5" fill="none" stroke="#000000" stroke-width="1.11" stroke-linecap="square" stroke-linejoin="miter"/>
<rect x="568.944" y="324.944" width="423.111" height="1.111" fill="#000000"/>
<rect x="568.944" y="9.944" width="423.111" height="1.111" fill="#000000"/>
<text x="780 784.5 793 797 805.5 813.12" y="139" font-size="13.89">reject</text>
<text x="858 865.62 873.25 880.88 889.38 898.25" y="53" font-size="13.89">accept</text>
<!-- axes_3 -->
<path d="M61 703L484 703L484 388L61 388Z" fill="#ffffff"/>
<path d="M81.5 703.5L81.5 708.5" stroke="#000000" stroke-width="1.11"/>
<text x="70 77.75 82.12" y="724" font-size="13.89">0.0</text>
<path d="M170.5 703.5L170.5 708.5" stroke="#000000" stroke-width="1.11"/>
<text x="159 166.75 171.12" y="724" font-size="13.89">0.5</text>
<path d="M258.5 703.5L258.5 708.5" stroke="#000000" stroke-width="1.11"/>
<text x="248 255.88 260.25" y="724" font-size="13.89">1.0</text>
<path d="M347.5 703.5L347.5 708.5" stroke="#000000" stroke-width="1.11"/>
<text x="337 344.88 349.25" y="724" font-size="13.89">1.5</text>
<path d="M436.5 703.5L436.5 708.5" stroke="#000000" stroke-width="1.11"/>
<text x="425 433.75 438.12" y="724" font-size="13.89">2.0</text>
<g transform="translate(241 744.5)">
<text font-size="13.89"><tspan x="0" y="0" font-style="italic">f</tspan><tspan x="4" y="0">(</tspan><tspan x="10" y="0" font-style="italic">w</tspan><tspan x="21" y="0">)</tspan><tspan x="27" y="0">,</tspan><tspan x="34" y="0" font-style="italic">g</tspan><tspan x="43" y="0">(</tspan><tspan x="48" y="0" font-style="italic">w</tspan><tspan x="59" y="0">)</tspan></text>
</g>
<rect x="56.5" y="687.944" width="5" height="1.111" fill="#000000"/>
<text x="30 37.75 42.12" y="694" font-size="13.89">0.0</text>
<rect x="56.5" y="630.944" width="5" height="1.111" fill="#000000"/>
<text x="30 37.75 42.12" y="637" font-size="13.89">0.2</text>
<rect x="56.5" y="573.944" width="5" height="1.111" fill="#000000"/>
<text x="30 37.75 42.12" y="580" font-size="13.89">0.4</text>
<rect x="56.5" y="516.944" width="5" height="1.111" fill="#000000"/>
<text x="30 37.75 42.12" y="522" font-size="13.89">0.6</text>
<rect x="56.5" y="458.944" width="5" height="1.111" fill="#000000"/>
<text x="30 37.75 42.12" y="465" font-size="13.89">0.8</text>
<rect x="56.5" y="401.944" width="5" height="1.111" fill="#000000"/>
<text x="30 37.88 42.25" y="408" font-size="13.89">1.0</text>
<g transform="translate(19.52 551.92) rotate(-90)">
<text font-size="13.89"><tspan x="0" y="0" font-style="italic">w</tspan></text>
</g>
<path d="M258.5 688.5L258.5 686.5L258.5 683.5L258.5 680.5L258.5 677.5L258.5 674.5L258.5 671.5L258.5 668.5L258.5 665.5L258.5 662.5L258.5 659.5L258.5 657.5L258.5 654.5L258.5 651.5L258.5 648.5L258.5 645.5L258.5 642.5L258.5 639.5L258.5 636.5L258.5 633.5L258.5 631.5L258.5 628.5L258.5 625.5L258.5 622.5L258.5 619.5L258.5 616.5L258.5 613.5L258.5 610.5L258.5 607.5L258.5 605.5L258.5 602.5L258.5 599.5L258.5 596.5L258.5 593.5L258.5 590.5L258.5 587.5L258.5 584.5L258.5 581.5L258.5 578.5L258.5 576.5L258.5 573.5L258.5 570.5L258.5 567.5L258.5 564.5L258.5 561.5L258.5 558.5L258.5 555.5L258.5 552.5L258.5 550.5L258.5 547.5L258.5 544.5L258.5 541.5L258.5 538.5L258.5 535.5L258.5 532.5L258.5 529.5L258.5 526.5L258.5 524.5L258.5 521.5L258.5 518.5L258.5 515.5L258.5 512.5L258.5 509.5L258.5 506.5L258.5 503.5L258.5 500.5L258.5 497.5L258.5 495.5L258.5 492.5L258.5 489.5L258.5 486.5L258.5 483.5L258.5 480.5L258.5 477.5L258.5 474.5L258.5 471.5L258.5 469.5L258.5 466.5L258.5 463.5L258.5 460.5L258.5 457.5L258.5 454.5L258.5 451.5L258.5 448.5L258.5 445.5L258.5 443.5L258.5 440.5L258.5 437.5L258.5 434.5L258.5 431.5L258.5 428.5L258.5 425.5L258.5 422.5L258.5 419.5L258.5 417.5L258.5 414.5L258.5 411.5L258.5 408.5L258.5 405.5L258.5 402.5" fill="none" stroke="#1f77b4" stroke-width="2.78" stroke-linecap="square" clip-path="url(#p1760d0ab5e)"/>
<path d="M80.63 688.4L80.71 685.51L80.94 682.62L81.32 679.73L81.85 676.83L82.53 673.94L83.36 671.05L84.33 668.16L85.46 665.26L86.72 662.37L88.14 659.48L89.69 656.59L91.39 653.69L93.23 650.8L95.2 647.91L97.32 645.02L99.57 642.12L101.96 639.23L104.49 636.34L107.15 633.45L109.94 630.55L112.86 627.66L115.91 624.77L119.09 621.88L122.39 618.98L125.82 616.09L129.38 613.2L133.06 610.3L136.85 607.41L140.77 604.52L144.8 601.63L148.95 598.73L153.22 595.84L157.59 592.95L162.08 590.06L166.67 587.16L171.37 584.27L176.18 581.38L181.09 578.49L186.09 575.59L191.2 572.7L196.4 569.81L201.69 566.92L207.08 564.02L212.55 561.13L218.11 558.24L223.75 555.35L229.48 552.45L235.28 549.56L241.15 546.67L247.09 543.78L253.11 540.88L259.18 537.99L265.32 535.1L271.51 532.21L277.76 529.31L284.06 526.42L290.4 523.53L296.78 520.64L303.19 517.74L309.64 514.85L316.11 511.96L322.6 509.07L329.1 506.17L335.61 503.28L342.12 500.39L348.63 497.49L355.11 494.6L361.58 491.71L368.01 488.82L374.4 485.92L380.74 483.03L387.02 480.14L393.22 477.25L399.34 474.35L405.35 471.46L411.24 468.57L416.99 465.68L422.59 462.78L428 459.89L433.22 457L438.2 454.11L442.92 451.21L447.34 448.32L451.41 445.43L455.09 442.54L458.31 439.64L461 436.75L463.09 433.86L464.44 430.97L464.93 428.07L464.37 425.18L462.51 422.29L459.01 419.4L453.35 416.5L444.71 413.61L431.63 410.72L411.07 407.83L374.25 404.93L80.63 402.04" fill="none" stroke="#ff7f0e" stroke-width="2.78" stroke-linecap="square" clip-path="url(#p1760d0ab5e)"/>
<path d="M258 688L258 402" fill="none" stroke="#1f77b4" stroke-width="2.08" stroke-dasharray="7.71,3.33" clip-path="url(#p1760d0ab5e)"/>
<path d="M81 538L436 538" fill="none" stroke="#1f77b4" stroke-width="2.08" stroke-dasharray="7.71,3.33" clip-path="url(#p1760d0ab5e)"/>
<path d="M81 538L436 538" fill="none" stroke="#1f77b4" stroke-opacity="0.042" stroke-width="4" stroke-dasharray="7.71,3.33" clip-path="url(#p1760d0ab5e)"/>
<path d="M81 402L436 402" fill="none" stroke="#1f77b4" stroke-width="2.08" stroke-dasharray="7.71,3.33" clip-path="url(#p1760d0ab5e)"/>
<path d="M81 402L436 402" fill="none" stroke="#1f77b4" stroke-opacity="0.042" stroke-width="4" stroke-dasharray="7.71,3.33" clip-path="url(#p1760d0ab5e)"/>
<path d="M61.5 703.5L61.5 388.5" fill="none" stroke="#000000" stroke-width="1.11" stroke-linecap="square" stroke-linejoin="miter"/>
<path d="M484.5 703.5L484.5 388.5" fill="none" stroke="#000000" stroke-width="1.11" stroke-linecap="square" stroke-linejoin="miter"/>
<rect x="60.944" y="702.944" width="424.111" height="1.111" fill="#000000"/>
<rect x="60.944" y="387.944" width="424.111" height="1.111" fill="#000000"/>
<path d="M420.5 696.5L474.5 696.5Q477.5 696.5 477.5 693.5L477.5 650.5Q477.5 647.5 474.5 647.5L420.5 647.5Q417.5 647.5 417.5 650.5L417.5 693.5Q417.5 696.5 420.5 696.5Z" fill="#ffffff" opacity="0.8" stroke="#cccccc" stroke-width="1.39" stroke-linejoin="miter"/>
<rect x="421.111" y="658.111" width="30.778" height="2.778" fill="#1f77b4"/>
<g transform="translate(462.12 664.92)">
<text font-size="13.89"><tspan x="0" y="0" font-style="italic">f</tspan></text>
</g>
<rect x="421.111" y="679.111" width="30.778" height="2.778" fill="#ff7f0e"/>
<g transform="translate(462.12 684.81)">
<text font-size="13.89"><tspan x="0" y="0" font-style="italic">g</tspan></text>
</g>
<!-- axes_4 -->
<path d="M569 703L991 703L991 388L569 388Z" fill="#ffffff"/>
<path d="M588.5 703.5L588.5 388.5" fill="none" stroke="#b0b0b0" stroke-width="1.11" stroke-linecap="square" clip-path="url(#p3ed62a09fd)"/>
<path d="M588.5 703.5L588.5 708.5" stroke="#000000" stroke-width="1.11"/>
<text x="577 584.75 589.12" y="724" font-size="13.89">0.0</text>
<path d="M665.5 703.5L665.5 388.5" fill="none" stroke="#b0b0b0" stroke-width="1.11" stroke-linecap="square" clip-path="url(#p3ed62a09fd)"/>
<path d="M665.5 703.5L665.5 708.5" stroke="#000000" stroke-width="1.11"/>
<text x="654 661.75 666.12" y="724" font-size="13.89">0.2</text>
<path d="M742.5 703.5L742.5 388.5" fill="none" stroke="#b0b0b0" stroke-width="1.11" stroke-linecap="square" clip-path="url(#p3ed62a09fd)"/>
<path d="M742.5 703.5L742.5 708.5" stroke="#000000" stroke-width="1.11"/>
<text x="731 738.75 743.12" y="724" font-size="13.89">0.4</text>
<path d="M819.5 703.5L819.5 388.5" fill="none" stroke="#b0b0b0" stroke-width="1.11" stroke-linecap="square" clip-path="url(#p3ed62a09fd)"/>
<path d="M819.5 703.5L819.5 708.5" stroke="#000000" stroke-width="1.11"/>
<text x="808 815.75 820.12" y="724" font-size="13.89">0.6</text>
<path d="M896.5 703.5L896.5 388.5" fill="none" stroke="#b0b0b0" stroke-width="1.11" stroke-linecap="square" clip-path="url(#p3ed62a09fd)"/>
<path d="M896.5 703.5L896.5 708.5" stroke="#000000" stroke-width="1.11"/>
<text x="885 892.75 897.12" y="724" font-size="13.89">0.8</text>
<path d="M973.5 703.5L973.5 388.5" fill="none" stroke="#b0b0b0" stroke-width="1.11" stroke-linecap="square" clip-path="url(#p3ed62a09fd)"/>
<path d="M973.5 703.5L973.5 708.5" stroke="#000000" stroke-width="1.11"/>
<text x="962 969.88 974.25" y="724" font-size="13.89">1.0</text>
<g transform="translate(775.93 742.5)">
<text font-size="13.89"><tspan x="0" y="0" font-style="italic">π</tspan></text>
</g>
<rect x="568.944" y="702.944" width="423.111" height="1.111" fill="#b0b0b0" clip-path="url(#p3ed62a09fd)"/>
<rect x="564.5" y="702.944" width="5" height="1.111" fill="#000000"/>
<text x="538 545.75 550.12" y="708" font-size="13.89">0.0</text>
<rect x="568.944" y="639.944" width="423.111" height="1.111" fill="#b0b0b0" clip-path="url(#p3ed62a09fd)"/>
<rect x="564.5" y="639.944" width="5" height="1.111" fill="#000000"/>
<text x="538 545.75 550.12" y="646" font-size="13.89">0.2</text>
<rect x="568.944" y="576.944" width="423.111" height="1.111" fill="#b0b0b0" clip-path="url(#p3ed62a09fd)"/>
<rect x="564.5" y="576.944" width="5" height="1.111" fill="#000000"/>
<text x="538 545.75 550.12" y="582" font-size="13.89">0.4</text>
<rect x="568.944" y="513.944" width="423.111" height="1.111" fill="#b0b0b0" clip-path="url(#p3ed62a09fd)"/>
<rect x="564.5" y="513.944" width="5" height="1.111" fill="#000000"/>
<text x="538 545.75 550.12" y="520" font-size="13.89">0.6</text>
<rect x="568.944" y="450.944" width="423.111" height="1.111" fill="#b0b0b0" clip-path="url(#p3ed62a09fd)"/>
<rect x="564.5" y="450.944" width="5" height="1.111" fill="#000000"/>
<text x="538 545.75 550.12" y="457" font-size="13.89">0.8</text>
<rect x="568.944" y="387.944" width="423.111" height="1.111" fill="#b0b0b0" clip-path="url(#p3ed62a09fd)"/>
<rect x="564.5" y="387.944" width="5" height="1.111" fill="#000000"/>
<text x="537 544.88 549.25" y="394" font-size="13.89">1.0</text>
<g transform="translate(526.05 589.35) rotate(-90)">
<text font-size="13.89"><tspan x="0" y="0" font-style="italic" font-family="'DejaVu Math TeX Gyre','DejaVu Serif',serif" font-size="11.5" fill-opacity="0.7">ℙ</tspan><tspan x="9" y="0">{</tspan><tspan x="18" y="0" font-style="italic">w</tspan><tspan x="32" y="0">&gt;</tspan><tspan x="46" y="0" font-style="italic">w</tspan><tspan x="58" y="0">(</tspan><tspan x="63" y="0" font-style="italic">π</tspan><tspan x="71" y="0">)</tspan><tspan x="77" y="0">}</tspan></text>
<rect x="46" y="-11" width="14" height="1"/>
</g>
<path d="M587.91 641.9L591.79 641.65L595.67 641.39L599.55 641.13L603.43 640.88L607.31 640.62L611.2 640.37L615.08 640.11L618.96 639.86L622.84 639.61L626.72 639.36L630.61 639.11L634.49 638.86L638.37 638.61L642.25 638.36L646.13 638.11L650.01 637.87L653.9 637.62L657.78 637.38L661.66 637.13L665.54 636.89L669.42 636.65L673.3 636.4L677.19 636.16L681.07 635.92L684.95 635.68L688.83 635.44L692.71 635.2L696.6 634.97L700.48 634.73L704.36 634.49L708.24 634.26L712.12 634.02L716 633.79L719.89 633.55L723.77 633.32L727.65 633.09L731.53 632.86L735.41 632.62L739.3 632.39L743.18 632.17L747.06 631.94L750.94 631.71L754.82 631.48L758.7 631.25L762.59 631.03L766.47 630.8L770.35 630.58L774.23 630.36L778.11 630.13L782 629.91L785.88 629.69L789.76 629.47L793.64 629.25L797.52 629.03L801.4 628.81L805.29 628.6L809.17 628.38L813.05 628.16L816.93 627.95L820.81 627.73L824.69 627.52L828.58 627.31L832.46 627.1L836.34 626.88L840.22 626.67L844.1 626.46L847.99 626.26L851.87 626.05L855.75 625.84L859.63 625.64L863.51 625.43L867.39 625.23L871.28 625.02L875.16 624.82L879.04 624.62L882.92 624.42L886.8 624.22L890.69 624.02L894.57 623.82L898.45 623.62L902.33 623.43L906.21 623.23L910.09 623.04L913.98 622.85L917.86 622.65L921.74 622.46L925.62 622.27L929.5 622.08L933.38 621.9L937.27 621.71L941.15 621.52L945.03 621.34L948.91 621.15L952.79 620.97L956.68 620.79L960.56 620.61L964.44 620.43L968.32 620.25L972.2 620.08" fill="none" stroke="#1f77b4" stroke-width="2.08" stroke-linecap="square" clip-path="url(#p3ed62a09fd)"/>
<path d="M587.91 578.95L591.79 578.44L595.67 577.93L599.55 577.43L603.43 576.92L607.31 576.42L611.2 575.92L615.08 575.42L618.96 574.92L622.84 574.43L626.72 573.94L630.61 573.45L634.49 572.96L638.37 572.48L642.25 571.99L646.13 571.51L650.01 571.03L653.9 570.56L657.78 570.08L661.66 569.61L665.54 569.14L669.42 568.67L673.3 568.2L677.19 567.74L681.07 567.27L684.95 566.81L688.83 566.35L692.71 565.89L696.6 565.44L700.48 564.99L704.36 564.53L708.24 564.08L712.12 563.64L716 563.19L719.89 562.75L723.77 562.3L727.65 561.86L731.53 561.42L735.41 560.99L739.3 560.55L743.18 560.12L747.06 559.69L750.94 559.26L754.82 558.83L758.7 558.41L762.59 557.98L766.47 557.56L770.35 557.14L774.23 556.72L778.11 556.31L782 555.89L785.88 555.48L789.76 555.07L793.64 554.66L797.52 554.26L801.4 553.85L805.29 553.45L809.17 553.05L813.05 552.65L816.93 552.26L820.81 551.86L824.69 551.47L828.58 551.08L832.46 550.69L836.34 550.3L840.22 549.92L844.1 549.53L847.99 549.15L851.87 548.78L855.75 548.4L859.63 548.02L863.51 547.65L867.39 547.28L871.28 546.91L875.16 546.54L879.04 546.18L882.92 545.82L886.8 545.46L890.69 545.1L894.57 544.74L898.45 544.39L902.33 544.04L906.21 543.69L910.09 543.34L913.98 542.99L917.86 542.65L921.74 542.31L925.62 541.97L929.5 541.63L933.38 541.3L937.27 540.96L941.15 540.63L945.03 540.31L948.91 539.98L952.79 539.66L956.68 539.34L960.56 539.02L964.44 538.7L968.32 538.39L972.2 538.09" fill="none" stroke="#ff7f0e" stroke-width="2.08" stroke-linecap="square" clip-path="url(#p3ed62a09fd)"/>
<path d="M569.5 703.5L569.5 388.5" fill="none" stroke="#000000" stroke-width="1.11" stroke-linecap="square" stroke-linejoin="miter"/>
<path d="M991.5 703.5L991.5 388.5" fill="none" stroke="#000000" stroke-width="1.11" stroke-linecap="square" stroke-linejoin="miter"/>
<rect x="568.944" y="702.944" width="423.111" height="1.111" fill="#000000"/>
<rect x="568.944" y="387.944" width="423.111" height="1.111" fill="#000000"/>
<path d="M927.5 696.5L982.5 696.5Q984.5 696.5 984.5 693.5L984.5 650.5Q984.5 647.5 982.5 647.5L927.5 647.5Q924.5 647.5 924.5 650.5L924.5 693.5Q924.5 696.5 927.5 696.5Z" fill="#ffffff" opacity="0.8" stroke="#cccccc" stroke-width="1.39" stroke-linejoin="miter"/>
<rect x="928.958" y="657.958" width="30.083" height="2.083" fill="#1f77b4"/>
<g transform="translate(969.89 664.92)">
<text font-size="13.89"><tspan x="0" y="0" font-style="italic">f</tspan></text>
</g>
<rect x="928.958" y="678.958" width="30.083" height="2.083" fill="#ff7f0e"/>
<g transform="translate(969.89 684.81)">
<text font-size="13.89"><tspan x="0" y="0" font-style="italic">g</tspan></text>
</g>
</svg>
</body></html>
